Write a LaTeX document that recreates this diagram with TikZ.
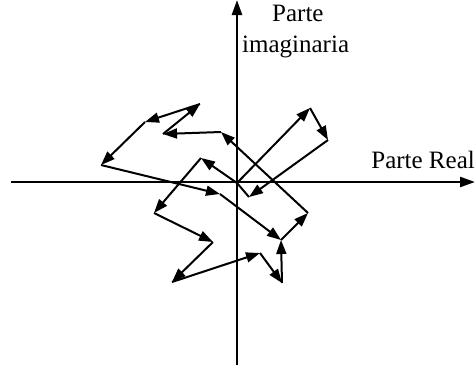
\documentclass[tikz,border=0pt]{standalone}
\usepackage{fontspec}
\setmainfont{Liberation Serif}
\usetikzlibrary{arrows.meta}
\begin{document}
\begin{tikzpicture}[x=1pt,y=-1pt,
  axis/.style={line width=2.5pt,-{Triangle[length=15pt,width=10pt]}},
  vec/.style={line width=2pt,-{Triangle[length=14pt,width=10pt]}},
  seg/.style={line width=2pt},
  lbl/.style={inner sep=0pt,font=\fontsize{25pt}{29pt}\selectfont}]
\useasboundingbox (0,0) rectangle (475,368);
% axes
\coordinate (xl) at (11,182);
\coordinate (xr) at (475,182);
\coordinate (yb) at (237,365);
\coordinate (yt) at (237,0);
\draw[axis] (xl) -- (xr);
\draw[axis] (yb) -- (yt);
\node[lbl,anchor=base west] (pi1) at (272,21) {Parte};
\node[lbl,anchor=base west] (pi2) at (242,52) {imaginaria};
\node[lbl,anchor=base east] (pr) at (475,168) {Parte Real};
% points
\coordinate (A) at (237,183);
\coordinate (B) at (310,108);
\coordinate (C) at (328,140);
\coordinate (D) at (249,197);
\coordinate (E) at (201,158);
\coordinate (F) at (154,213);
\coordinate (G) at (213,242);
\coordinate (H) at (172,282);
\coordinate (I) at (260,253);
\coordinate (J) at (282,283);
\coordinate (K) at (281,240);
\coordinate (L) at (308,213);
\coordinate (M) at (221,132);
\coordinate (N) at (163,134);
\coordinate (O) at (200,104);
\coordinate (P) at (145,122);
\coordinate (Q) at (101,165);
\coordinate (R) at (220,194);
% vectors
\draw[vec] (A) -- (B);
\draw[vec] (B) -- (C);
\draw[vec] (C) -- (D);
\draw[seg] (D) -- (A);
\draw[vec] (A) -- (E);
\draw[vec] (E) -- (F);
\draw[vec] (F) -- (G);
\draw[vec] (G) -- (H);
\draw[vec] (H) -- (I);
\draw[vec] (I) -- (J);
\draw[vec] (J) -- (K);
\draw[vec] (K) -- (L);
\draw[vec] (L) -- (M);
\draw[vec] (M) -- (N);
\draw[vec] (N) -- (O);
\draw[vec] (O) -- (P);
\draw[vec] (P) -- (Q);
\draw[vec] (Q) -- (R);
\draw[vec] (R) -- (K);
\end{tikzpicture}
\end{document}
